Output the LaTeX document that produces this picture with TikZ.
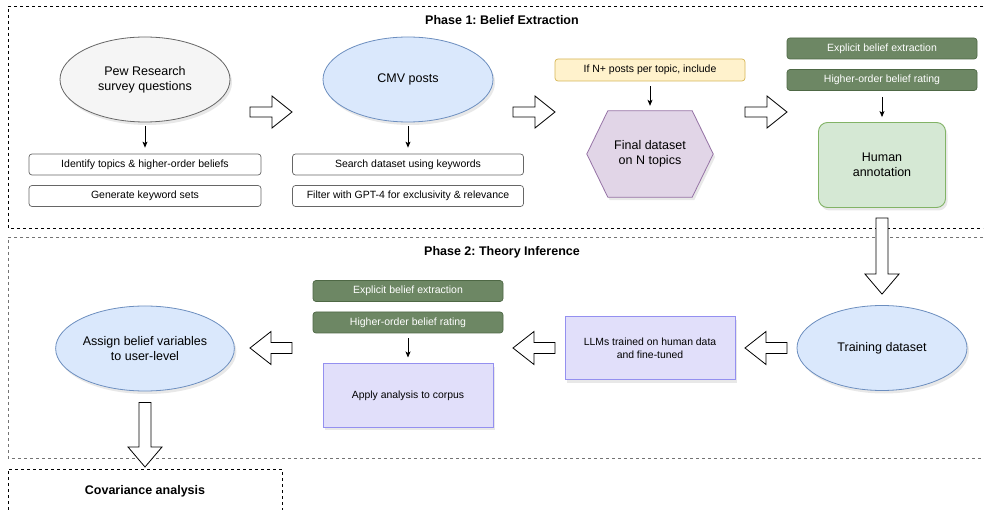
\documentclass[tikz,border=0pt]{standalone}
\usepackage{fontspec}
\setmainfont{Liberation Sans}
\frenchspacing
\usetikzlibrary{shapes.geometric,arrows.meta,calc,shadows,backgrounds}
\definecolor{grayfill}{HTML}{F5F5F5}
\definecolor{graydraw}{HTML}{666666}
\definecolor{bluefill}{HTML}{DAE8FC}
\definecolor{bluedraw}{HTML}{6C8EBF}
\definecolor{yelfill}{HTML}{FFF2CC}
\definecolor{yeldraw}{HTML}{D6B656}
\definecolor{purfill}{HTML}{E1D5E7}
\definecolor{purdraw}{HTML}{9673A6}
\definecolor{dgfill}{HTML}{6D8764}
\definecolor{dgdraw}{HTML}{3A5431}
\definecolor{lgfill}{HTML}{D5E8D4}
\definecolor{lgdraw}{HTML}{82B366}
\definecolor{lavfill}{HTML}{E1DFFA}
\definecolor{lavdraw}{HTML}{9490F0}
\tikzset{
  every node/.style={inner sep=1pt},
  shad/.style={drop shadow={opacity=0.18,shadow xshift=2pt,shadow yshift=-3pt}},
  bigell/.style={ellipse,minimum width=170pt,minimum height=85pt,line width=0.8pt,align=center,font=\fontsize{12.5}{15}\selectfont,shad},
  greyell/.style={bigell,fill=grayfill,draw=graydraw},
  blueell/.style={bigell,fill=bluefill,draw=bluedraw},
  stepbox/.style={rectangle,rounded corners=3pt,draw=graydraw,fill=white,line width=0.7pt,minimum width=232pt,minimum height=21pt,font=\fontsize{10.5}{12}\selectfont},
  darkbox/.style={rectangle,rounded corners=3pt,draw=dgdraw!60!dgfill,fill=dgfill,line width=0.7pt,minimum width=190pt,minimum height=21pt,text=white,font=\fontsize{10.5}{12}\selectfont},
  lavbox/.style={rectangle,draw=lavdraw,fill=lavfill,line width=1pt,minimum width=170pt,minimum height=63pt,align=center,font=\fontsize{10.4}{13}\selectfont,shad},
  thinarrow/.style={-{Stealth[length=6pt,width=5pt,inset=1.5pt]},line width=0.8pt,black},
  blk/.style={draw=black,fill=white,line width=0.8pt,line join=miter},
  phaseline/.style={dash pattern=on 3pt off 3pt,line width=0.8pt},
  title/.style={font=\bfseries\fontsize{12.5}{14}\selectfont}
}
\newcommand\rblk[2]{\draw[blk] let \p1=(#1), \p2=(#2) in
  (\x1,\y1-5pt) -- (\x2-20pt,\y1-5pt) -- (\x2-20pt,\y1-16pt) -- (\x2,\y1) -- (\x2-20pt,\y1+16pt) -- (\x2-20pt,\y1+5pt) -- (\x1,\y1+5pt) -- cycle;}
\newcommand\lblk[2]{\draw[blk] let \p1=(#1), \p2=(#2) in
  (\x1,\y1-5.5pt) -- (\x2+21pt,\y1-5.5pt) -- (\x2+21pt,\y1-16.5pt) -- (\x2,\y1) -- (\x2+21pt,\y1+16.5pt) -- (\x2+21pt,\y1+5.5pt) -- (\x1,\y1+5.5pt) -- cycle;}
\newcommand\dblk[2]{\draw[blk] let \p1=(#1), \p2=(#2) in
  (\x1-6pt,\y1) -- (\x1+6pt,\y1) -- (\x1+6pt,\y2+20pt) -- (\x1+17pt,\y2+20pt) -- (\x1,\y2) -- (\x1-17pt,\y2+20pt) -- (\x1-6pt,\y2+20pt) -- cycle;}
\begin{document}
\begin{tikzpicture}[x=1pt,y=-1pt]
\useasboundingbox (0,0) rectangle (985,510);
\begin{scope}[on background layer]
\fill[white] (0,0) rectangle (985,510);
\end{scope}
% containers
\draw[phaseline,black] (983,6) -- (8,6) -- (8,228) -- (983,228);
\draw[phaseline,black!55] (983,237) -- (8,237) -- (8,458) -- (983,458);
\draw[phaseline,black] (8,510) -- (8,469) -- (282,469) -- (282,510);
\node[title] (t1) at (502,20) {Phase 1: Belief Extraction};
\node[title] (t2) at (502,252) {Phase 2: Theory Inference};
\node[title] (t3) at (145,491) {Covariance analysis};
% Phase 1 nodes
\node[greyell] (pew) at (145,79.5) {Pew Research\\survey questions};
\node[blueell] (cmv) at (408,79.5) {CMV posts};
\node[stepbox] (id) at (145,164.5) {Identify topics \& higher-order beliefs};
\node[stepbox] (gen) at (145,196) {Generate keyword sets};
\node[stepbox,minimum width=231pt] (search) at (408,164.5) {Search dataset using keywords};
\node[stepbox,minimum width=231pt] (filter) at (408,196) {Filter with GPT-4 for exclusivity \& relevance};
\node[stepbox,draw=yeldraw,fill=yelfill,minimum width=190pt,minimum height=22pt] (yel) at (650,70) {If N+ posts per topic, include};
\node[minimum width=126pt,minimum height=86pt,align=center,font=\fontsize{12.5}{15}\selectfont] (hex) at (650,154) {Final dataset\\on N topics};
\begin{scope}[on background layer]
\draw[fill=purfill,draw=purdraw,line width=0.8pt,shad] (hex.west) -- ($(hex.north west)+(21,0)$) -- ($(hex.north east)+(-21,0)$) -- (hex.east) -- ($(hex.south east)+(-21,0)$) -- ($(hex.south west)+(21,0)$) -- cycle;
\end{scope}
\node[darkbox] (g1) at (882,48.5) {Explicit belief extraction};
\node[darkbox] (g2) at (882,80) {Higher-order belief rating};
\node[rectangle,rounded corners=9pt,fill=lgfill,draw=lgdraw,line width=0.9pt,minimum width=127pt,minimum height=85pt,align=center,font=\fontsize{12.5}{15}\selectfont,shad] (human) at (882,165) {Human\\annotation};
% Phase 2 nodes
\node[blueell] (train) at (882,348) {Training dataset};
\node[lavbox] (llm) at (650,348.5) {LLMs trained on human data\\and fine-tuned};
\node[darkbox] (g3) at (408,291) {Explicit belief extraction};
\node[darkbox] (g4) at (408,322.5) {Higher-order belief rating};
\node[lavbox] (apply) at (408,395.5) {Apply analysis to corpus};
\node[blueell] (assign) at (145,348.5) {Assign belief variables\\to user-level};
% thin arrows
\draw[thinarrow,shorten <=4pt,shorten >=6pt] (pew.south) -- (id.north);
\draw[thinarrow,shorten <=4pt,shorten >=6pt] (cmv.south) -- (search.north);
\draw[thinarrow,shorten <=5pt,shorten >=5pt] (yel.south) -- (hex.north);
\draw[thinarrow,shorten <=6pt,shorten >=5pt] (g2.south) -- (human.north);
\draw[thinarrow,shorten <=5pt,shorten >=6pt] (g4.south) -- (apply.north);
% block arrows
\coordinate (a1s) at (250,112); \coordinate (a1e) at (292,112);
\coordinate (a2s) at (513,112); \coordinate (a2e) at (555,112);
\coordinate (a3s) at (745,112); \coordinate (a3e) at (787,112);
\rblk{a1s}{a1e}
\rblk{a2s}{a2e}
\rblk{a3s}{a3e}
\coordinate (d1s) at ($(human.south)+(0,10)$);
\coordinate (d1e) at ($(train.north)+(0,-11)$);
\dblk{d1s}{d1e}
\coordinate (l1s) at (787,348); \coordinate (l1e) at (745,348);
\coordinate (l2s) at (555,348); \coordinate (l2e) at (513,348);
\coordinate (l3s) at (292,348); \coordinate (l3e) at (250,348);
\lblk{l1s}{l1e}
\lblk{l2s}{l2e}
\lblk{l3s}{l3e}
\coordinate (d2s) at ($(assign.south)+(0,11)$);
\coordinate (d2e) at (145,467);
\dblk{d2s}{d2e}
\end{tikzpicture}
\end{document}
